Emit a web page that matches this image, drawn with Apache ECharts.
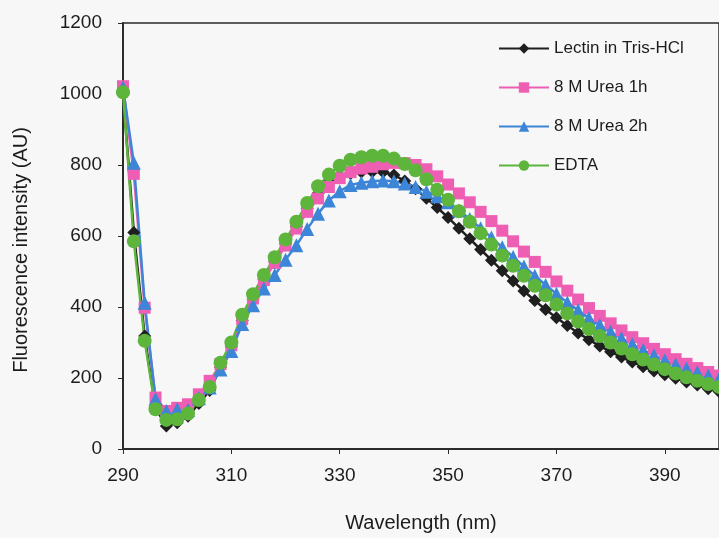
<!DOCTYPE html>
<html>
<head>
<meta charset="utf-8">
<script src="https://cdn.jsdelivr.net/npm/echarts@6/dist/echarts.min.js"></script>
<style>
  html, body { margin: 0; padding: 0; background: #f7f7f8; }
  #chart { width: 719px; height: 538px; }
</style>
</head>
<body>
<div id="chart"></div>
<script>
// wavelength (nm)
var wavelengths = [290, 292, 294, 296, 298, 300, 302, 304, 306, 308,
  310, 312, 314, 316, 318, 320, 322, 324, 326, 328,
  330, 332, 334, 336, 338, 340, 342, 344, 346, 348,
  350, 352, 354, 356, 358, 360, 362, 364, 366, 368,
  370, 372, 374, 376, 378, 380, 382, 384, 386, 388,
  390, 392, 394, 396, 398, 400];

// fluorescence intensity (AU)
var lectinTris = [1005, 610, 318, 116, 65, 74, 92, 128, 165, 230,
  288, 362, 422, 478, 528, 578, 627, 678, 720, 750,
  768, 776, 780, 781, 780, 772, 755, 733, 706, 680,
  652, 622, 592, 562, 532, 502, 473, 445, 418, 393,
  370, 348, 327, 308, 290, 274, 259, 245, 232, 220,
  209, 199, 189, 180, 170, 162];

var urea1h = [1022, 775, 398, 145, 107, 116, 126, 154, 192, 239,
  292, 366, 424, 476, 524, 573, 621, 668, 706, 738,
  763, 780, 790, 795, 802, 806, 805, 800, 788, 768,
  745, 720, 695, 668, 642, 615, 585, 556, 527, 499,
  472, 446, 421, 397, 375, 354, 334, 315, 298, 282,
  267, 253, 240, 228, 217, 207];

var urea2h = [1018, 806, 412, 141, 107, 112, 110, 143, 173, 224,
  276, 352, 405, 452, 490, 533, 574, 620, 663, 700,
  726, 744, 750, 754, 756, 754, 748, 738, 725, 712,
  695, 672, 648, 622, 596, 568, 541, 514, 488, 462,
  437, 413, 391, 369, 349, 330, 312, 295, 279, 264,
  250, 238, 227, 216, 206, 197];

var edta = [1005, 585, 305, 112, 82, 84, 100, 138, 175, 243,
  300, 378, 436, 490, 540, 590, 640, 693, 740, 773,
  798, 815, 822, 826, 826, 818, 803, 785, 760, 730,
  702, 670, 640, 608, 576, 545, 516, 488, 460, 433,
  407, 382, 359, 338, 318, 300, 283, 267, 252, 238,
  225, 213, 202, 192, 183, 175];

var seriesNames = ['Lectin in Tris-HCl', '8 M Urea 1h', '8 M Urea 2h', 'EDTA'];
var yTicks = [0, 200, 400, 600, 800, 1000, 1200];
var xTicks = [290, 310, 330, 350, 370, 390];

function pairs(ys) {
  return wavelengths.map(function (x, i) { return [x, ys[i]]; });
}

var textCol = '#1c1c1c';
var font = 'Liberation Sans, Arial, sans-serif';

var chart = echarts.init(document.getElementById('chart'));

function mkSeries(name, ys, color, symbol, size) {
  return {
    name: name,
    type: 'line',
    data: pairs(ys),
    symbol: symbol,
    symbolSize: size,
    showAllSymbol: true,
    itemStyle: { color: color, opacity: 1 },
    lineStyle: { color: color, width: 2.5 },
    emphasis: { disabled: true }
  };
}

chart.setOption({
  backgroundColor: '#f7f7f8',
  animation: false,
  grid: {
    left: 123, right: -9, top: 23, bottom: 88,
    show: true, borderColor: '#2b2b2b', borderWidth: 1.5,
    backgroundColor: 'transparent'
  },
  legend: {
    orient: 'vertical',
    left: 493, top: 35,
    itemWidth: 50, itemHeight: 13, itemGap: 22,
    data: seriesNames,
    textStyle: { fontSize: 17, color: textCol, fontFamily: font }
  },
  xAxis: {
    type: 'value',
    min: xTicks[0], max: 400, interval: 20,
    name: 'Wavelength (nm)',
    nameLocation: 'middle', nameGap: 64,
    nameTextStyle: { fontSize: 20, color: textCol, fontFamily: font },
    axisLine: { lineStyle: { color: '#2b2b2b', width: 2 } },
    axisTick: { show: true, inside: false, length: 5, lineStyle: { color: '#2b2b2b' } },
    axisLabel: { fontSize: 19, color: textCol, fontFamily: font, margin: 17, showMaxLabel: false },
    splitLine: { show: false }
  },
  yAxis: {
    type: 'value',
    min: yTicks[0], max: yTicks[yTicks.length - 1], interval: 200,
    name: 'Fluorescence intensity (AU)',
    nameLocation: 'middle', nameGap: 92,
    nameTextStyle: { fontSize: 20, color: textCol, fontFamily: font, padding: [0, 28, 0, 0] },
    axisLine: { show: true, lineStyle: { color: '#2b2b2b', width: 2 } },
    axisTick: { show: true, inside: false, length: 5, lineStyle: { color: '#2b2b2b' } },
    axisLabel: {
      fontSize: 19, color: textCol, fontFamily: font, margin: 21,
      formatter: function (v) { return String(v); }
    },
    splitLine: { show: false }
  },
  series: [
    mkSeries(seriesNames[0], lectinTris, '#1f1f1f', 'diamond', 13),
    mkSeries(seriesNames[1], urea1h, '#ee5fb4', 'rect', 12),
    mkSeries(seriesNames[2], urea2h, '#3d85d6', 'triangle', 14),
    mkSeries(seriesNames[3], edta, '#5db53c', 'circle', 14)
  ]
});
</script>
</body>
</html>
